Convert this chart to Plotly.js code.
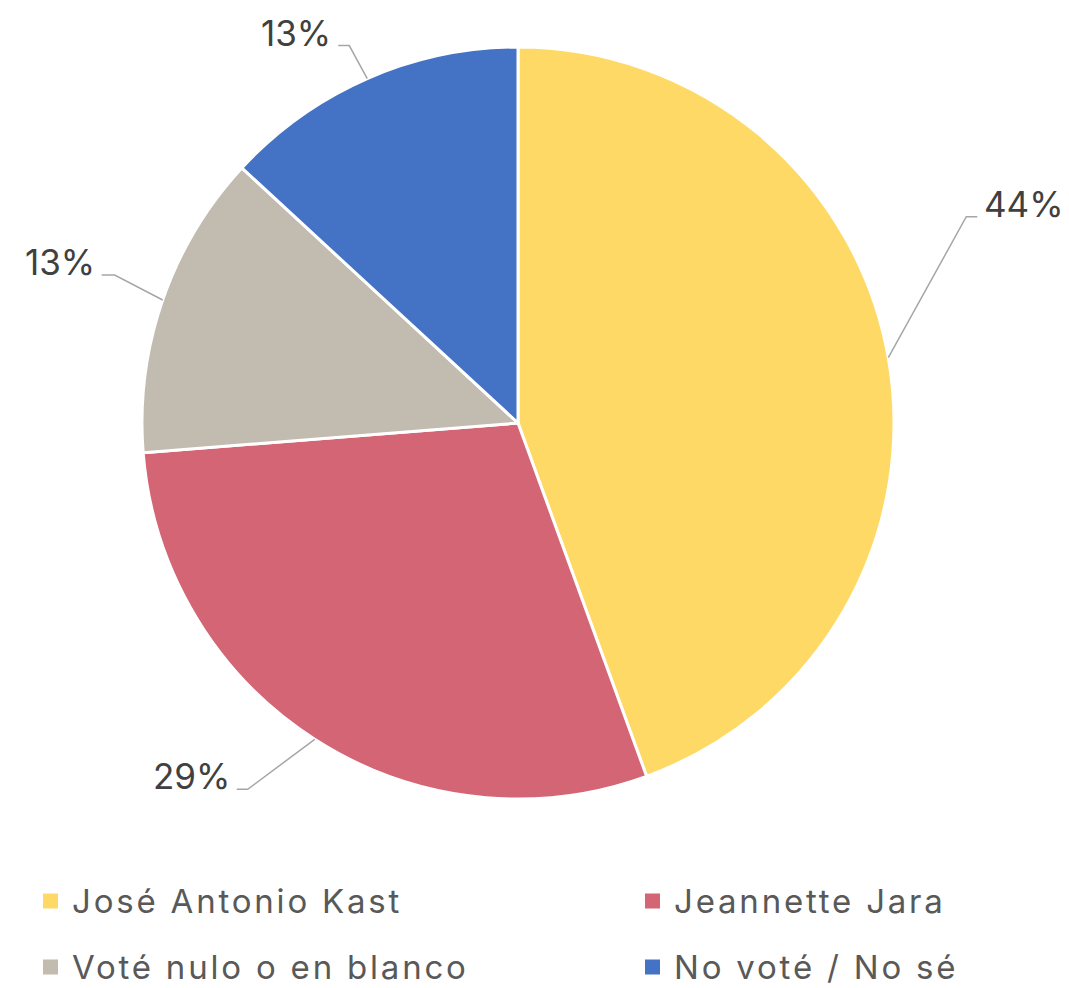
<!DOCTYPE html>
<html><head><meta charset="utf-8">
<script src="https://cdn.plot.ly/plotly-3.0.1.min.js"></script>
<style>body{margin:0;background:#fff}</style>
</head><body><div id="chart" style="width:1069px;height:988px"></div>
<script>
// ---- data ----
const categories = ["José Antonio Kast", "Jeannette Jara", "Voté nulo o en blanco", "No voté / No sé"];
const values = [44, 29, 13, 13];
const valueLabels = ["44%", "29%", "13%", "13%"];
const colors = ["#FED966", "#D36574", "#C1BBB0", "#4472C4"];

// ---- layout geometry ----
const W = 1069, H = 988;
const M = {l: 142, r: 175, t: 47, b: 189};
const pw = W - M.l - M.r, ph = H - M.t - M.b;
const cx = M.l + pw / 2, cy = M.t + ph / 2, R = Math.min(pw, ph) / 2;
const px2x = p => (p - M.l) / pw;
const py2y = p => 1 - (p - M.t) / ph;
const FONT = "Inter";
const labelSize = 35, legendSize = 33, legendSpacing = 2.8;

// leader-line styling: elbow offset from slice edge point, horizontal tail length
const leader = [
  {dx: 78, dy: -141, h: 11},
  {dx: -67, dy: 50, h: -11},
  {dx: -48, dy: -25, h: -13},
  {dx: -18, dy: -33, h: -11}
];

const total = values.reduce((a, b) => a + b, 0);
const shapes = [], annotations = [];
let cum = 0;
values.forEach((v, i) => {
  const th = 2 * Math.PI * (cum + v / 2) / total;
  cum += v;
  const x0 = cx + R * Math.sin(th), y0 = cy - R * Math.cos(th);
  const x1 = x0 + leader[i].dx, y1 = y0 + leader[i].dy;
  const x2 = x1 + leader[i].h, y2 = y1;
  shapes.push({
    type: "path", xref: "paper", yref: "paper",
    path: `M${px2x(x0)},${py2y(y0)} L${px2x(x1)},${py2y(y1)} L${px2x(x2)},${py2y(y2)}`,
    line: {color: "#A6A6A6", width: 1.5}
  });
  const right = leader[i].h > 0;
  annotations.push({
    xref: "paper", yref: "paper",
    x: px2x(x2 + (right ? 5 : -5)), y: py2y(y2),
    xanchor: right ? "left" : "right", yanchor: "middle", yshift: 13,
    text: valueLabels[i], showarrow: false,
    font: {family: FONT, size: labelSize, color: "#404040"}
  });
});

// manual legend (2 columns x 2 rows)
const legCols = [43, 645], legRows = [901, 967], sq = 15;
categories.forEach((c, i) => {
  const lx = legCols[i % 2], ly = legRows[Math.floor(i / 2)];
  shapes.push({
    type: "rect", xref: "paper", yref: "paper",
    x0: px2x(lx), x1: px2x(lx + sq), y0: py2y(ly - sq / 2), y1: py2y(ly + sq / 2),
    fillcolor: colors[i], line: {width: 0}
  });
  annotations.push({
    xref: "paper", yref: "paper", x: px2x(lx + 27), y: py2y(ly),
    xanchor: "left", yanchor: "middle",
    text: `<span style="letter-spacing:${legendSpacing}px">${c}</span>`, showarrow: false,
    font: {family: FONT, size: legendSize, color: "#595959"}
  });
});

const trace = {
  type: "pie", labels: categories, values: values,
  marker: {colors: colors, line: {color: "#FFFFFF", width: 3}},
  sort: false, direction: "clockwise", rotation: 0,
  textinfo: "none", hoverinfo: "label+value", showlegend: false
};

Plotly.newPlot("chart", [trace], {
  width: W, height: H, margin: M,
  paper_bgcolor: "#FFFFFF", plot_bgcolor: "#FFFFFF",
  showlegend: false, shapes: shapes, annotations: annotations,
  font: {family: FONT}
}, {displayModeBar: false, staticPlot: true});
</script></body></html>
